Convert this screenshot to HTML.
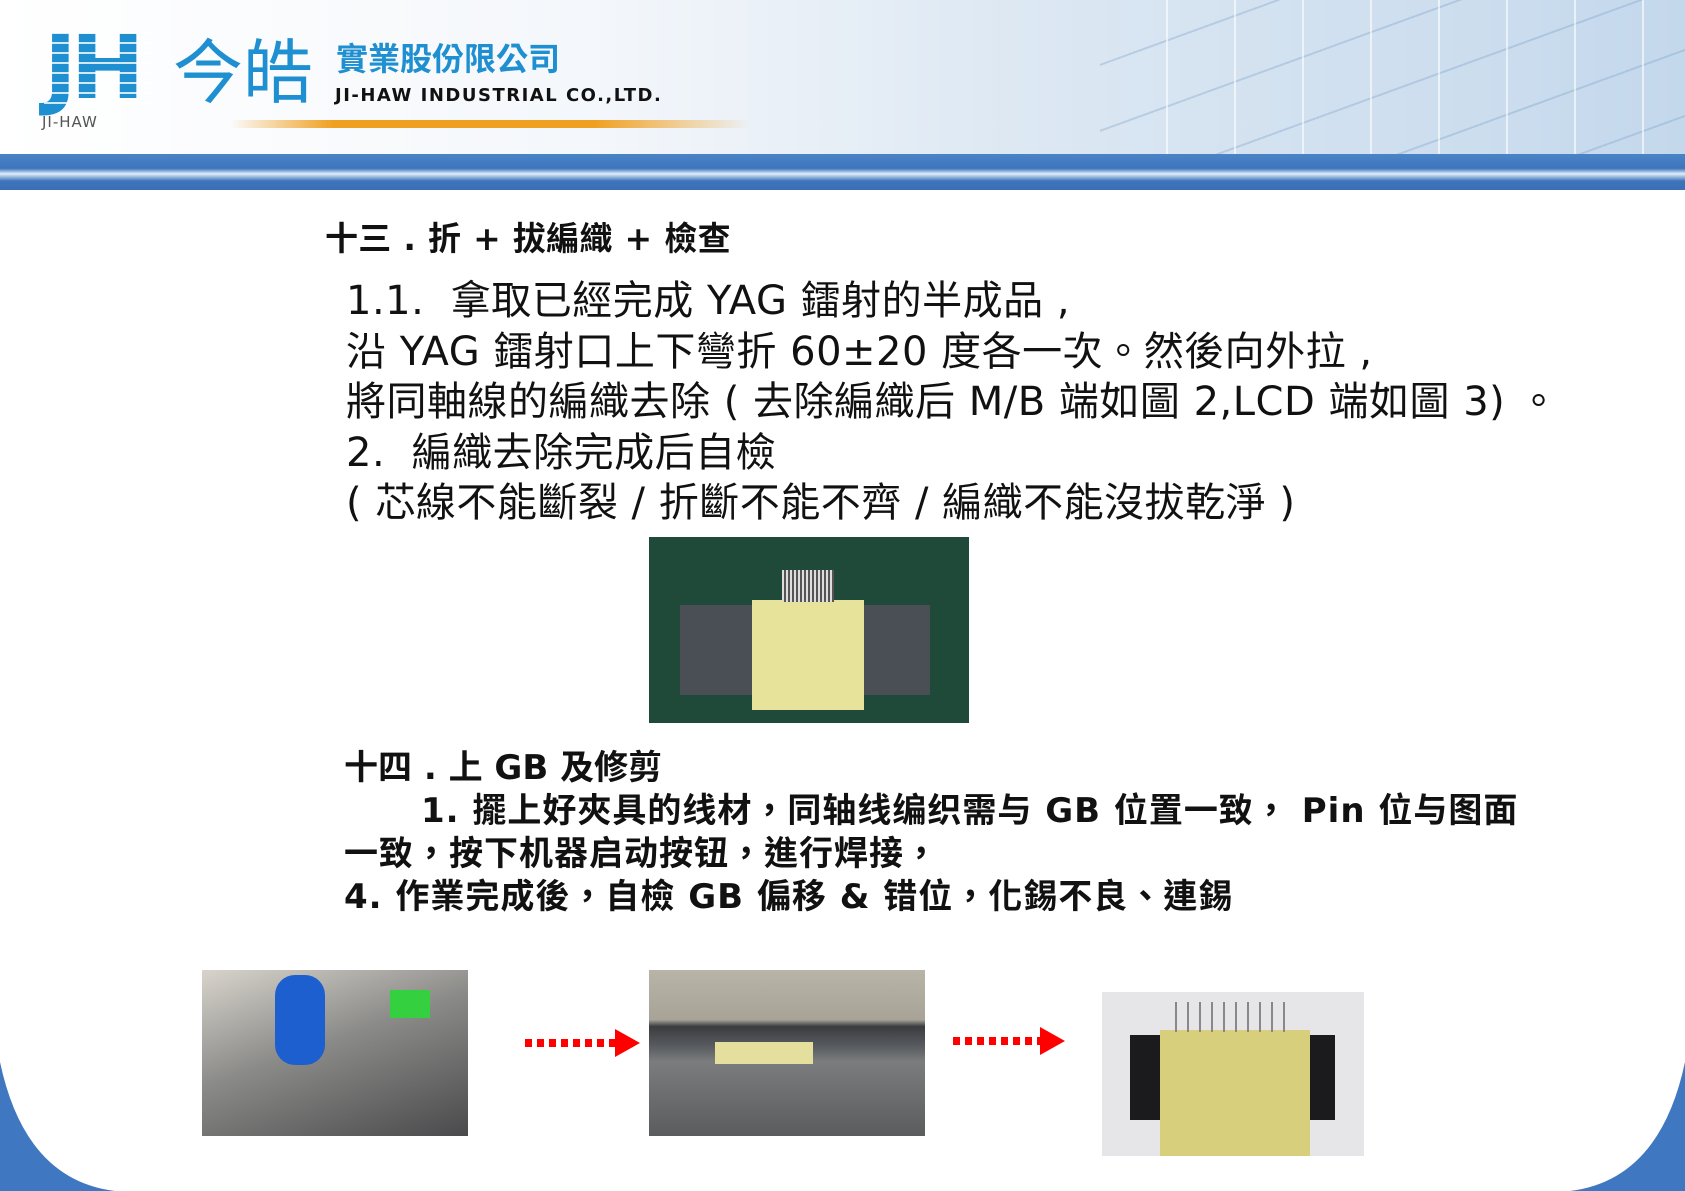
<!DOCTYPE html>
<html style="width:1685px;height:1191px;overflow:hidden"><head><meta charset="utf-8"><style>
*{margin:0;padding:0;box-sizing:border-box}
body{width:1685px;height:1191px;position:relative;overflow:hidden;background:#fff;font-family:"DejaVu Sans","Noto Sans CJK TC",sans-serif;color:#111}
#w{position:absolute;left:0;top:0;width:1685px;height:1191px;overflow:hidden}
.a{position:absolute;white-space:nowrap}
.b{font-weight:bold}
</style></head><body><div id="w">
<svg class="a" style="left:0;top:0" width="1685" height="1191"><path d="M0,1062 Q25,1180 115,1191 L0,1191 Z" fill="#3f78c0"/><path d="M1685,1062 Q1660,1180 1570,1191 L1685,1191 Z" fill="#3f78c0"/></svg>
<div class="a" style="left:0;top:0;width:1685px;height:155px;background:linear-gradient(90deg,#fff 0%,#f4f7fb 35%,#dde8f3 60%,#c4d8ec 100%)"></div>
<div class="a" style="left:1100px;top:0;width:585px;height:155px;background:repeating-linear-gradient(90deg,transparent 0 66px,rgba(255,255,255,.6) 66px 68px),repeating-linear-gradient(160deg,transparent 0 60px,rgba(120,160,200,.35) 60px 62px)"></div>
<div class="a" style="left:0;top:154px;width:1685px;height:36px;background:linear-gradient(180deg,#4a84c8,#3e74ba 40%,#dfeefb 55%,#3e74ba 75%,#3a6fb5)"></div>
<div class="a" style="left:230px;top:120px;width:520px;height:8px;border-radius:4px;background:linear-gradient(90deg,rgba(240,160,30,0),#f0a020 20%,#f0a020 70%,rgba(240,160,30,0))"></div>
<div class="a b" style="left:44px;top:24px;font-size:88px;color:#1e8fd0;letter-spacing:-6px;line-height:1">JH</div>
<div class="a" style="left:44px;top:24px;width:110px;height:88px;background:repeating-linear-gradient(180deg,transparent 0 8px,rgba(255,255,255,.8) 8px 10px)"></div>
<div class="a" style="left:42px;top:113px;font-size:15px;color:#555;letter-spacing:1px">JI-HAW</div>
<div class="a" style="left:173px;top:38px;font-size:70px;color:#1e8fd0;line-height:1">今皓</div>
<div class="a b" style="left:336px;top:43px;font-size:32px;color:#1e8fd0;line-height:1">實業股份限公司</div>
<div class="a b" style="left:335px;top:87px;font-size:18px;color:#111;line-height:1;letter-spacing:1.5px">JI-HAW INDUSTRIAL CO.,LTD.</div>
<div class="a b" style="left:325px;top:220px;font-size:33px;line-height:38px;letter-spacing:0.3px">十三 . 折 + 拔編織 + 檢查</div>
<div class="a" style="left:346px;top:276px;font-size:40px;line-height:50.5px;letter-spacing:0.5px">1.1.&nbsp; 拿取已經完成 YAG 鐳射的半成品 ,<br>沿 YAG 鐳射口上下彎折 60±20 度各一次。然後向外拉 ,<br>將同軸線的編織去除 ( 去除編織后 M/B 端如圖 2,LCD 端如圖 3) 。<br>2.&nbsp; 編織去除完成后自檢<br>( 芯線不能斷裂 / 折斷不能不齊 / 編織不能沒拔乾淨 )</div>
<div class="a" style="left:649px;top:537px;width:320px;height:186px;background:#1f4a3a"></div>
<div class="a" style="left:680px;top:605px;width:250px;height:90px;background:#4a4f55"></div>
<div class="a" style="left:752px;top:600px;width:112px;height:110px;background:#e8e39a"></div>
<div class="a" style="left:782px;top:570px;width:52px;height:32px;background:repeating-linear-gradient(90deg,#ddd 0 2px,#555 2px 4px)"></div>
<div class="a b" style="left:344px;top:749px;font-size:34px;line-height:38px">十四 . 上 GB 及修剪</div>
<div class="a b" style="left:344px;top:790px;font-size:34px;line-height:43px;letter-spacing:1px">&nbsp;&nbsp;&nbsp;&nbsp;&nbsp;&nbsp;1. 擺上好夾具的线材，同轴线编织需与 GB 位置一致， Pin 位与图面<br>一致，按下机器启动按钮，進行焊接，<br>4. 作業完成後，自檢 GB 偏移 &amp; 错位，化錫不良、連錫</div>
<div class="a" style="left:202px;top:970px;width:266px;height:166px;background:linear-gradient(160deg,#d8d4cc,#8a8a88 45%,#4a4a4c)"></div>
<div class="a" style="left:275px;top:975px;width:50px;height:90px;background:#1e5fd0;border-radius:20px"></div>
<div class="a" style="left:390px;top:990px;width:40px;height:28px;background:#35d040"></div>
<div class="a" style="left:649px;top:970px;width:276px;height:166px;background:linear-gradient(180deg,#b8b4a8 0,#a8a396 30%,#3a3c40 34%,#55585c 45%,#7a7c7e 55%,#5a5c5e 100%)"></div>
<div class="a" style="left:715px;top:1042px;width:98px;height:22px;background:#e4df9c"></div>
<div class="a" style="left:1102px;top:992px;width:262px;height:164px;background:#e6e6e8"></div>
<div class="a" style="left:1130px;top:1035px;width:205px;height:85px;background:#1b1b1d"></div>
<div class="a" style="left:1160px;top:1030px;width:150px;height:126px;background:#d8cf7c"></div>
<div class="a" style="left:1175px;top:1002px;width:120px;height:30px;background:repeating-linear-gradient(90deg,#888 0 2px,transparent 2px 12px)"></div>
<svg class="a" style="left:520px;top:1025px" width="130" height="40"><line x1="5" y1="18" x2="95" y2="18" stroke="#f00" stroke-width="8" stroke-dasharray="7,5"/><polygon points="95,4 120,18 95,32" fill="#f00"/></svg>
<svg class="a" style="left:948px;top:1023px" width="130" height="40"><line x1="5" y1="18" x2="92" y2="18" stroke="#f00" stroke-width="8" stroke-dasharray="7,5"/><polygon points="92,4 117,18 92,32" fill="#f00"/></svg>
</div></body></html>
